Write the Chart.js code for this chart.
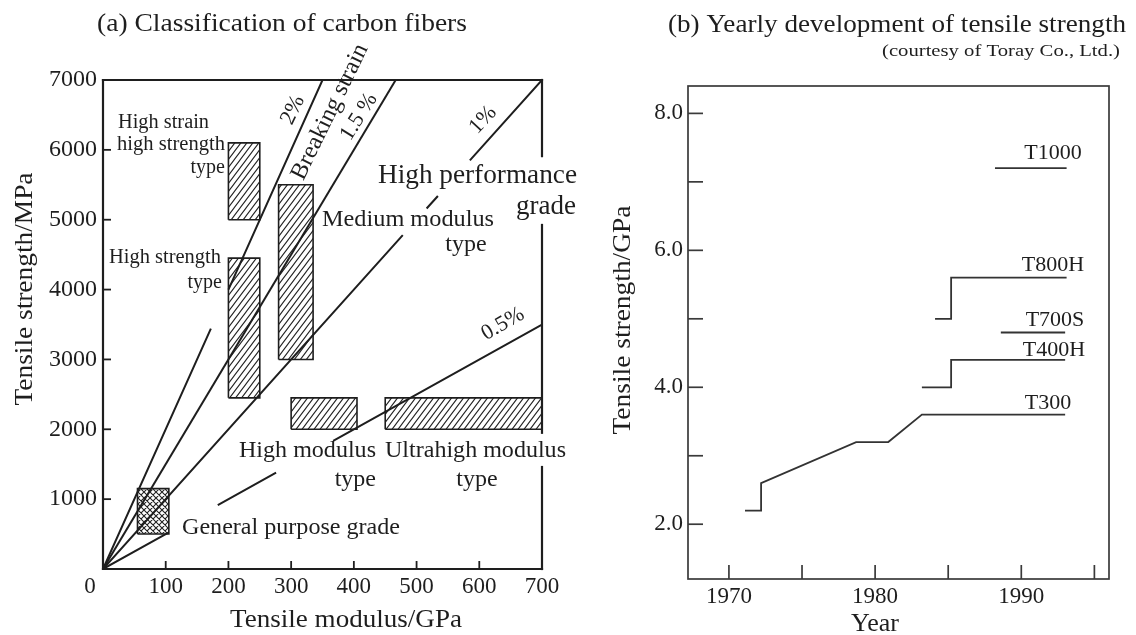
<!DOCTYPE html>
<html><head><meta charset="utf-8">
<script src="https://cdn.jsdelivr.net/npm/chart.js@4.4.1/dist/chart.umd.min.js"></script>
<style>
html,body{margin:0;padding:0;background:#fff;}
#wrap{position:relative;width:1136px;height:635px;overflow:hidden;background:#fff;}
canvas{position:absolute;top:0;}
#cA{left:0;} #cB{left:580px;}
</style></head><body>
<div id="wrap"><canvas id="cA" width="580" height="635"></canvas><canvas id="cB" width="556" height="635"></canvas></div>
<script>
// ---------------- DATA: (a) Classification of carbon fibers ----------------
const modulusTicks = [0, 100, 200, 300, 400, 500, 600, 700];          // GPa
const strengthTicksMPa = [1000, 2000, 3000, 4000, 5000, 6000, 7000]; // MPa
// breaking-strain lines [modulus GPa, strength MPa]; null = gap in the drawn line
const strain2pct  = [[0,0],[172,3440],null,[200,4000],[350,7000]];
const strain15pct = [[0,0],[466.7,7000]];
const strain1pct  = [[0,0],[478,4780],null,[516,5160],[534,5340],null,[585,5850],[700,7000]];
const strain05pct = [[0,0],[105,525],null,[183,915],[276,1380],null,[367,1835],[700,3500]];
// fiber-type regions
const boxNames    = ['High strain high strength type','High strength type','Medium modulus type','High modulus type','Ultrahigh modulus type','General purpose grade'];
const boxModulus  = [[200,250],[200,250],[280,335],[300,405],[450,700],[55,105]];
const boxStrength = [[5000,6100],[2450,4450],[3000,5500],[2000,2450],[2000,2450],[500,1150]];

// ---------------- DATA: (b) Yearly development of tensile strength ----------------
const yearTicks  = [1970, 1975, 1980, 1985, 1990, 1995];
const yearLabels = ['1970', '', '1980', '', '1990', ''];
const gpaTicks   = [2, 3, 4, 5, 6, 7, 8];
const gpaLabels  = ['2.0', '', '4.0', '', '6.0', '', '8.0'];
const gradeNames = ['T300', 'T400H', 'T700S', 'T800H', 'T1000'];
const t300  = [[1971.1,2.2],[1972.2,2.2],[1972.2,2.6],[1978.7,3.2],[1980.9,3.2],[1983.2,3.6],[1993.0,3.6]];
const t400h = [[1983.2,4.0],[1985.2,4.0],[1985.2,4.4],[1993.0,4.4]];
const t700s = [[1988.6,4.8],[1993.0,4.8]];
const t800h = [[1984.1,5.0],[1985.2,5.0],[1985.2,5.6],[1993.1,5.6]];
const t1000 = [[1988.2,7.2],[1993.1,7.2]];

// ---------------- helpers ----------------
const FONT = '"Liberation Serif","Times New Roman",serif';
const INK = '#1e1e1e';
function toXY(arr){ let last = 0; return arr.map(p => { if (p){ last = p[0]; return {x:p[0], y:p[1]}; } return {x:last, y:null}; }); }
function rectXY(ex, sy){ return [[ex[0],sy[0]],[ex[1],sy[0]],[ex[1],sy[1]],[ex[0],sy[1]],[ex[0],sy[0]]].map(p=>({x:p[0],y:p[1]})); }
function drawText(ctx, s, x, y, o){
  o = o || {};
  ctx.save();
  ctx.font = (o.size||20) + 'px ' + FONT;
  ctx.fillStyle = o.color || INK;
  ctx.textBaseline = 'middle';
  ctx.textAlign = o.align || 'center';
  const m = ctx.measureText(s).width;
  const sx = o.w ? o.w / m : 1;
  ctx.translate(x, y);
  if (o.rot) ctx.rotate(o.rot * Math.PI / 180);
  ctx.scale(sx, 1);
  ctx.fillText(s, 0, 0);
  ctx.restore();
}
function line(ctx, x1, y1, x2, y2){ ctx.beginPath(); ctx.moveTo(x1,y1); ctx.lineTo(x2,y2); ctx.stroke(); }
function makeHatch(targetCtx, cross){
  const w = 6, h = cross ? 6 : 8;
  const c = document.createElement('canvas'); c.width = w; c.height = h;
  const g = c.getContext('2d');
  g.strokeStyle = '#222'; g.lineWidth = 1.1;
  g.beginPath();
  for (let k = 0; k <= 2; k++){ g.moveTo(-w, h*(k+1)); g.lineTo(2*w, h*(k-2)); }
  if (cross){ for (let k = -1; k <= 1; k++){ g.moveTo(-w, h*(k-1)); g.lineTo(2*w, h*(k+2)); } }
  g.stroke();
  return targetCtx.createPattern(c, 'repeat');
}

// ---------------- chart (a) ----------------
const ctxA = document.getElementById('cA').getContext('2d');
const hatch = makeHatch(ctxA, false), crossHatch = makeHatch(ctxA, true);
const lineDS = (arr, name) => ({label:name, data:toXY(arr), showLine:true, borderColor:INK, borderWidth:2, pointRadius:0, fill:false, spanGaps:false, order:0});
const dsA = [
  lineDS(strain2pct,'2%'), lineDS(strain15pct,'1.5%'), lineDS(strain1pct,'1%'), lineDS(strain05pct,'0.5%')
];
boxNames.forEach((n, i) => dsA.push({label:n, data:rectXY(boxModulus[i], boxStrength[i]), showLine:true, borderColor:INK, borderWidth:1.6,
  backgroundColor: i === 5 ? crossHatch : hatch, fill:'shape', pointRadius:0, order:1}));

const frameA = {
  id:'frameA',
  afterDraw(chart){
    const ctx = chart.ctx, X = chart.scales.x, Y = chart.scales.y;
    const x0 = X.getPixelForValue(0), x1 = X.getPixelForValue(700);
    const y0 = Y.getPixelForValue(0), y1 = Y.getPixelForValue(7000);
    ctx.save();
    ctx.strokeStyle = INK; ctx.lineWidth = 2.2; ctx.lineCap = 'square';
    line(ctx, x0, y0, x0, y1); line(ctx, x0, y0, x1, y0); line(ctx, x0, y1, x1, y1);
    [[5910,7000],[1950,4925],[0,1460]].forEach(s => line(ctx, x1, Y.getPixelForValue(s[0]), x1, Y.getPixelForValue(s[1])));
    ctx.lineWidth = 1.8; ctx.lineCap = 'butt';
    modulusTicks.forEach(v => { if (v > 0 && v < 700){ const px = X.getPixelForValue(v); line(ctx, px, y0, px, y0 - 8); } });
    strengthTicksMPa.forEach(v => { if (v < 7000){ const py = Y.getPixelForValue(v); line(ctx, x0, py, x0 + 8, py); } });
    ctx.restore();
    // tick labels
    modulusTicks.forEach(v => drawText(ctx, String(v), X.getPixelForValue(v) - (v === 0 ? 13 : 0), y0 + 18, {size:23}));
    strengthTicksMPa.forEach(v => drawText(ctx, String(v), x0 - 6, Y.getPixelForValue(v), {size:24, align:'right'}));
    // titles
    drawText(ctx, '(a) Classification of carbon fibers', 282, 24, {size:26, w:370});
    drawText(ctx, 'Tensile strength/MPa', 25, 289, {size:26, rot:-90, w:233});
    drawText(ctx, 'Tensile modulus/GPa', 346, 620, {size:26, w:232});
    // annotations
    const T = [
      ['High strain', 118, 123, 'left', 20, 91], ['high strength', 117, 145, 'left', 20, 108], ['type', 225, 168, 'right', 20],
      ['High strength', 109, 258, 'left', 20, 112], ['type', 222, 283, 'right', 20],
      ['Medium modulus', 322, 220, 'left', 24, 172], ['type', 466, 245, 'center', 24],
      ['High performance', 378, 176, 'left', 27, 199], ['grade', 576, 207, 'right', 27],
      ['High modulus', 239, 451, 'left', 24, 137], ['type', 376, 480, 'right', 24],
      ['Ultrahigh modulus', 385, 451, 'left', 24, 181], ['type', 477, 480, 'center', 24],
      ['General purpose grade', 182, 528, 'left', 24, 218]
    ];
    T.forEach(t => drawText(ctx, t[0], t[1], t[2], {align:t[3], size:t[4], w:t[5]}));
    drawText(ctx, 'Breaking strain', 330, 112, {size:24, rot:-64, w:148});
    drawText(ctx, '2%', 293, 110, {size:22, rot:-64});
    drawText(ctx, '1.5 %', 359, 117, {size:22, rot:-58});
    drawText(ctx, '1%', 483, 120, {size:22, rot:-47});
    drawText(ctx, '0.5%', 503, 324, {size:22, rot:-30});
  }
};

new Chart(ctxA, {
  type:'scatter',
  data:{datasets:dsA},
  options:{
    responsive:false, animation:false, events:[],
    layout:{padding:{left:103, right:38, top:80, bottom:66}},
    scales:{x:{type:'linear', min:0, max:700, display:false}, y:{type:'linear', min:0, max:7000, display:false}},
    plugins:{legend:{display:false}, tooltip:{enabled:false}, title:{display:false}},
    elements:{point:{radius:0}, line:{tension:0}}
  },
  plugins:[frameA]
});

// ---------------- chart (b) ----------------
const ctxB = document.getElementById('cB').getContext('2d');
const OFF = 580;
const series = [t300, t400h, t700s, t800h, t1000];
const dsB = series.map((s, i) => ({label:gradeNames[i], data:toXY(s), showLine:true, borderColor:'#333', borderWidth:1.8, pointRadius:0, fill:false}));
const frameB = {
  id:'frameB',
  afterDraw(chart){
    const ctx = chart.ctx, X = chart.scales.x, Y = chart.scales.y;
    const a = chart.chartArea;
    ctx.save();
    ctx.strokeStyle = '#3a3a3a'; ctx.lineWidth = 1.7;
    ctx.strokeRect(a.left, a.top, a.right - a.left, a.bottom - a.top);
    gpaTicks.forEach(v => { const py = Y.getPixelForValue(v); line(ctx, a.left, py, a.left + 15, py); });
    yearTicks.forEach(v => { const px = X.getPixelForValue(v); line(ctx, px, a.bottom, px, a.bottom - 14); });
    ctx.restore();
    gpaTicks.forEach((v, i) => { if (gpaLabels[i]) drawText(ctx, gpaLabels[i], a.left - 5, Y.getPixelForValue(v), {size:23, align:'right'}); });
    yearTicks.forEach((v, i) => { if (yearLabels[i]) drawText(ctx, yearLabels[i], X.getPixelForValue(v), a.bottom + 18, {size:23}); });
    drawText(ctx, '(b) Yearly development of tensile strength', 897 - OFF, 25, {size:26, w:458});
    drawText(ctx, '(courtesy of Toray Co., Ltd.)', 1001 - OFF, 52, {size:16, w:238});
    drawText(ctx, 'Tensile strength/GPa', 623 - OFF, 320, {size:26, rot:-90, w:229});
    drawText(ctx, 'Year', 875 - OFF, 624, {size:26});
    const L = [['T300',1048,403],['T400H',1054,350],['T700S',1055,320],['T800H',1053,265],['T1000',1053,153]];
    L.forEach(l => drawText(ctx, l[0], l[1] - OFF, l[2], {size:22}));
  }
};
new Chart(ctxB, {
  type:'scatter',
  data:{datasets:dsB},
  options:{
    responsive:false, animation:false, events:[],
    layout:{padding:{left:108, right:27, top:86, bottom:56}},
    scales:{x:{type:'linear', min:1967.2, max:1996, display:false}, y:{type:'linear', min:1.2, max:8.4, display:false}},
    plugins:{legend:{display:false}, tooltip:{enabled:false}, title:{display:false}},
    elements:{point:{radius:0}, line:{tension:0}}
  },
  plugins:[frameB]
});
</script>
</body></html>
